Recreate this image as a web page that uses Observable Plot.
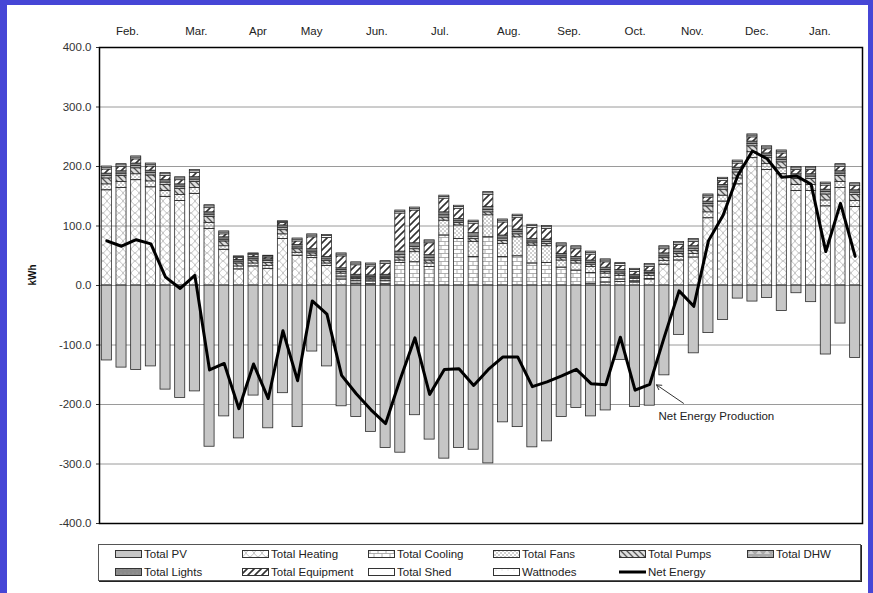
<!DOCTYPE html>
<html><head><meta charset="utf-8">
<script src="https://cdn.jsdelivr.net/npm/d3@7"></script>
<script src="https://cdn.jsdelivr.net/npm/@observablehq/plot@0.6"></script>
<style>
html,body{margin:0;padding:0;background:#fff;}
body{width:873px;height:593px;position:relative;overflow:hidden;font-family:"Liberation Sans",Arial,sans-serif;}
#frameL{position:absolute;left:0;top:0;width:7px;height:100%;background:#4646d6;}
#frameT{position:absolute;left:0;top:0;width:100%;height:5px;background:#4646d6;}
#frameR{position:absolute;left:868px;top:0;width:5px;height:100%;background:#4646d6;}
#panel{position:absolute;left:7px;top:5px;width:861px;height:588px;background:#fff;}
#chart{position:absolute;left:0;top:0;}
#legend{position:absolute;left:91px;top:539px;width:761px;height:35px;border:1px solid #555;box-shadow:1px 1px 0 #222;background:#fff;}
.li{position:absolute;display:flex;align-items:center;font-size:11.5px;color:#222;white-space:nowrap;}
.li svg{margin-right:2px;}
</style></head>
<body>
<div id="frameL"></div><div id="frameT"></div><div id="frameR"></div>
<svg width="0" height="0" style="position:absolute">
<defs>
<pattern id="p-heat" patternUnits="userSpaceOnUse" width="8" height="8">
<path d="M0,0 C3,1 5,7 8,8 M8,0 C5,1 3,7 0,8" fill="none" stroke="#b2b2b2" stroke-width="0.8"/>
</pattern>
<pattern id="p-cool" patternUnits="userSpaceOnUse" width="8" height="8">
<path d="M0,0.5 H8 M0,4.5 H8 M2,0.5 V4.5 M6,4.5 V8.5" stroke="#9a9a9a" stroke-width="0.8" fill="none"/>
</pattern>
<pattern id="p-fans" patternUnits="userSpaceOnUse" width="4" height="4">
<path d="M0,0 L4,4 M4,0 L0,4" stroke="#b0b0b0" stroke-width="0.6"/>
</pattern>
<pattern id="p-pump" patternUnits="userSpaceOnUse" width="6" height="6">
<rect width="6" height="6" fill="#dedede"/>
<path d="M-1,-1 L7,7 M-1,5 L1,7 M5,-1 L7,1" stroke="#555" stroke-width="1.3"/>
</pattern>
<pattern id="p-dhw" patternUnits="userSpaceOnUse" width="8" height="6">
<rect width="8" height="6" fill="#a9a9a9"/>
<path d="M1,5 L4,1 L7,5 Z" fill="#d4d4d4"/>
</pattern>
<pattern id="p-light" patternUnits="userSpaceOnUse" width="4" height="4">
<rect width="4" height="4" fill="#8a8a8a"/>
<circle cx="2" cy="2" r="0.6" fill="#a0a0a0"/>
</pattern>
<pattern id="p-equip" patternUnits="userSpaceOnUse" width="7" height="7">
<rect width="7" height="7" fill="#fff"/>
<path d="M-1,8 L8,-1 M-1,1 L1,-1 M6,8 L8,6" stroke="#333" stroke-width="1.6"/>
</pattern>
<pattern id="p-watt" patternUnits="userSpaceOnUse" width="6" height="6">
<rect width="6" height="6" fill="#fff"/>
<circle cx="3" cy="3" r="0.4" fill="#999"/>
</pattern>
</defs>
</svg>
<div id="panel">
<div id="chart"></div>
<div id="legend"></div>
</div>
<script>
// ---------- data ----------
const weeks = d3.range(52); // weekly bars, Feb -> Jan
const seriesNames = ["Total PV","Total Heating","Total Cooling","Total Fans","Total Pumps","Total DHW","Total Lights","Total Equipment","Total Shed","Wattnodes"];
const seriesFills = ["#c6c6c6","url(#p-heat)","url(#p-cool)","url(#p-fans)","url(#p-pump)","url(#p-dhw)","url(#p-light)","url(#p-equip)","#ffffff","url(#p-watt)"];

const pv = [-126,-138,-142,-136,-175,-189,-178,-271,-220,-257,
  -185,-240,-181,-238,-111,-136,-203,-221,-246,-273,
  -281,-218,-259,-291,-273,-276,-299,-230,-238,-272,
  -262,-221,-206,-220,-210,-125,-204,-202,-151,-83,
  -114,-80,-58,-22,-27,-21,-43,-13,-28,-116,-64,-122];
const heating = [160,164,177,165,149,142,154,95,60,27,
  32,28,78,50,46,33,10,3,2,2,
  0,0,0,0,0,0,0,0,0,0,
  0,0,0,3,5,6,5,10,35,42,
  47,113,141,170,214,194,187,159,159,133,164,132];
const cooling = [0,0,0,0,0,0,0,0,0,0,
  0,0,0,0,0,0,5,5,5,6,
  38,39,31,84,78,48,81,48,49,37,
  38,30,25,18,8,4,2,1,0,0,
  0,0,0,0,0,0,0,0,0,0,0,0];
const fans = [10,10,10,10,10,10,10,10,6,5,
  5,5,8,5,4,4,5,3,3,3,
  4,17,6,25,23,25,37,22,32,30,
  28,12,12,10,7,6,4,5,6,6,
  6,10,10,10,10,10,10,10,10,10,10,10];
const pumps = [10,10,10,10,10,10,10,10,8,5,
  5,5,7,6,4,4,3,2,2,2,
  5,5,5,5,4,5,5,5,5,4,
  4,4,4,4,3,3,2,3,5,5,
  5,10,10,10,10,10,10,10,10,10,10,10];
const dhw = [4,4,4,4,4,4,4,4,3,3,
  3,3,4,3,3,3,3,2,2,2,
  4,4,4,4,3,4,4,4,4,3,
  3,3,3,3,3,3,2,2,3,3,
  3,4,4,4,4,4,4,4,4,4,4,4];
const lights = [4,4,4,4,4,4,4,4,4,3,
  3,3,4,4,4,4,3,3,3,3,
  6,6,5,5,4,6,5,5,4,4,
  4,4,4,4,4,4,3,3,5,5,
  5,4,4,4,4,4,4,4,4,4,4,4];
const equipment = [7,7,7,7,7,7,7,7,5,3,
  3,3,4,6,20,32,20,16,15,18,
  64,55,20,23,17,16,20,22,20,19,
  18,13,13,10,9,7,5,7,7,7,
  7,7,7,7,7,7,7,7,7,7,7,7];
const shed = [3,3,3,3,3,3,3,3,3,2,
  2,2,2,3,3,3,3,3,3,3,
  3,3,3,3,3,3,3,3,3,3,
  3,3,3,3,3,3,3,3,3,3,
  3,3,3,3,3,3,3,3,3,3,3,3];
const wattnodes = [2,2,2,2,2,2,2,2,2,1,
  1,1,1,2,2,2,2,2,2,2,
  2,2,2,2,2,2,2,2,2,2,
  2,2,2,2,2,2,2,2,2,2,
  2,2,2,2,2,2,2,2,2,2,2,2];
const netEnergy = [75,66,77,70,14,-5,17,-142,-131,-207,
  -132,-190,-76,-160,-26,-48,-151,-182,-209,-232,
  -157,-88,-183,-141,-140,-168,-141,-120,-120,-170,
  -162,-152,-141,-165,-167,-87,-176,-166,-86,-9,
  -35,75,118,185,226,213,182,184,170,57,138,49];
const monthLabels = ["Feb.","Mar.","Apr","May","Jun.","Jul.","Aug.","Sep.","Oct.","Nov.","Dec.","Jan."];
const monthPos = [1.9,6.6,10.8,14.45,18.9,23.2,27.9,32.0,36.5,40.4,44.8,49.1];
const yTicks = [-400,-300,-200,-100,0,100,200,300,400];
const gridTicks = [-300,-200,-100,0,100,200,300];
const note = {text:"Net Energy Production", week:38.1, value:-220, arrowFrom:[39.8,-198], arrowTo:[37.96,-167]};

// ---------- build ----------
const seriesValues = [pv,heating,cooling,fans,pumps,dhw,lights,equipment,shed,wattnodes];
const long = [];
seriesNames.forEach((s, k) => weeks.forEach(w => {
  const v = seriesValues[k][w];
  if (v !== 0) long.push({w, series: s, value: v});
}));

const chart = Plot.plot({
  width: 861, height: 530,
  marginLeft: 92, marginRight: 6, marginTop: 42, marginBottom: 12,
  style: {background: "transparent", fontFamily: "Liberation Sans, Arial, sans-serif", fontSize: "11px", color: "#333"},
  x: {domain: [0, 52], axis: null},
  y: {domain: [-400, 400], axis: null},
  color: {type: "ordinal", domain: seriesNames, range: seriesFills},
  marks: [
    Plot.ruleY(gridTicks, {stroke: "#9a9a9a", strokeWidth: 1}),
    Plot.rectY(long, Plot.stackY({
      x1: d => d.w, x2: d => d.w + 1, y: "value", fill: "series", order: seriesNames,
      insetLeft: 2.3, insetRight: 2.3, stroke: "#2a2a2a", strokeWidth: 0.8
    })),
    Plot.line(netEnergy, {x: (d, i) => weeks[i] + 0.5, y: d => d, stroke: "#000", strokeWidth: 3, strokeLinejoin: "round"}),
    Plot.arrow([note], {x1: d => d.arrowFrom[0], y1: d => d.arrowFrom[1], x2: d => d.arrowTo[0], y2: d => d.arrowTo[1], stroke: "#333", strokeWidth: 1, headLength: 8}),
    Plot.text([note], {x: "week", y: "value", text: "text", textAnchor: "start", fontSize: 11.5, fill: "#222"}),
    Plot.axisY(yTicks, {tickFormat: d => d.toFixed(1), tickSize: 3, tickPadding: 5, fontSize: 11.5, label: null, stroke: "#333"}),
    Plot.text(monthLabels, {x: (d, i) => monthPos[i], text: d => d, frameAnchor: "top", dy: -21, fontSize: 11.5, fill: "#222"}),
    Plot.text(["kWh"], {frameAnchor: "left", rotate: -90, dx: -67, fontSize: 10, fontWeight: "bold", fill: "#111"}),
    Plot.frame({stroke: "#000", strokeWidth: 1.5})
  ]
});
document.getElementById("chart").appendChild(chart);

// ---------- legend ----------
const legendItems = [
  {name: "Total PV", fill: seriesFills[0]}, {name: "Total Heating", fill: seriesFills[1]},
  {name: "Total Cooling", fill: seriesFills[2]}, {name: "Total Fans", fill: seriesFills[3]},
  {name: "Total Pumps", fill: seriesFills[4]}, {name: "Total DHW", fill: seriesFills[5]},
  {name: "Total Lights", fill: seriesFills[6]}, {name: "Total Equipment", fill: seriesFills[7]},
  {name: "Total Shed", fill: seriesFills[8]}, {name: "Wattnodes", fill: seriesFills[9]},
  {name: "Net Energy", line: true}
];
const colX = [16, 143, 269, 394, 520, 648];
const rowY = [9, 27];
const leg = document.getElementById("legend");
legendItems.forEach((it, i) => {
  const c = i % 6, r = Math.floor(i / 6);
  const div = document.createElement("div");
  div.className = "li";
  div.style.left = colX[c] + "px";
  div.style.top = (rowY[r] - 8) + "px";
  div.style.height = "16px";
  const sw = it.line
    ? `<svg width="27" height="10"><line x1="0" y1="5" x2="27" y2="5" stroke="#000" stroke-width="3"/></svg>`
    : `<svg width="27" height="10"><rect x="0.5" y="1.5" width="26" height="7" fill="${it.fill}" stroke="#333" stroke-width="1"/></svg>`;
  div.innerHTML = sw + `<span>${it.name}</span>`;
  leg.appendChild(div);
});
</script>
</body></html>
